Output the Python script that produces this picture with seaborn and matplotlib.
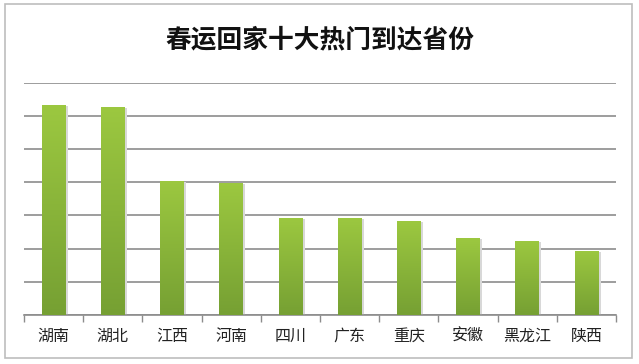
import matplotlib
matplotlib.use("Agg")
import matplotlib.pyplot as plt
import matplotlib.patches as mpatches
from matplotlib.colors import LinearSegmentedColormap
import seaborn as sns
import pandas as pd
import numpy as np

# 春运回家十大热门到达省份
provinces = ['湖南', '湖北', '江西', '河南', '四川', '广东', '重庆', '安徽', '黑龙江', '陕西']
values = [63.3, 62.7, 40.4, 39.8, 29.3, 29.3, 28.3, 23.1, 22.3, 19.3]

df = pd.DataFrame({'省份': provinces, '比例': values})

sns.set_theme(style='white')
plt.rcParams['font.family'] = ['Noto Sans CJK SC', 'DejaVu Sans']

fig = plt.figure(figsize=(6.39, 3.64), dpi=100)
ax = fig.add_axes([24 / 639, 49 / 364, 592 / 639, 232.3 / 364])

sns.barplot(data=df, x='省份', y='比例', color='#8ab538', width=0.4,
            saturation=1, linewidth=0, ax=ax, zorder=3)

# gradient fill, light on top -> darker at the bottom
cmap = LinearSegmentedColormap.from_list('grn', ['#76a033', '#9cc840'])
grad = np.linspace(0, 1, 256).reshape(-1, 1)
for bar in ax.patches:
    x0, w, h = bar.get_x(), bar.get_width(), bar.get_height()
    # soft shadow on the right
    sh = mpatches.Rectangle((x0 + 0.04, 0), w, h - 0.3, color='#d8d8d8',
                            zorder=2, lw=0)
    ax.add_patch(sh)
    im = ax.imshow(grad, cmap=cmap, aspect='auto', origin='lower',
                   extent=[x0, x0 + w, 0, h], zorder=4)
    im.set_clip_path(bar)

ax.set_xlim(-0.5, len(provinces) - 0.5)
ax.set_ylim(0, 70)
ax.set_yticks(np.arange(0, 71, 10))
ax.set_yticklabels([])
ax.tick_params(axis='y', length=0)
ax.yaxis.grid(True, color='#8c8c8c', lw=1.2, zorder=0)
ax.set_axisbelow(True)
ax.set_xlabel('')
ax.set_ylabel('')

for s in ['left', 'right', 'top']:
    ax.spines[s].set_visible(False)
ax.spines['bottom'].set_color('#8c8c8c')
ax.spines['bottom'].set_linewidth(1.2)

ax.set_xticks(np.arange(-0.5, len(provinces)), minor=True)
ax.tick_params(axis='x', which='minor', length=5, width=1, color='#8c8c8c',
               direction='out', bottom=True)
ax.tick_params(axis='x', which='major', length=0, pad=9, labelsize=11.5,
               labelcolor='#222222')

fig.text(0.5, 1 - 40 / 364, '春运回家十大热门到达省份', ha='center', va='center',
         fontsize=18.5, fontweight='bold', color='#111111')

# outer chart frame
fig.patches.append(mpatches.Rectangle((5 / 639, 6 / 364), 627 / 639, 354 / 364,
                                      transform=fig.transFigure, fill=False,
                                      ec='#bdbdbd', lw=1.2))

fig.savefig('out.png', dpi=100, facecolor='white')
